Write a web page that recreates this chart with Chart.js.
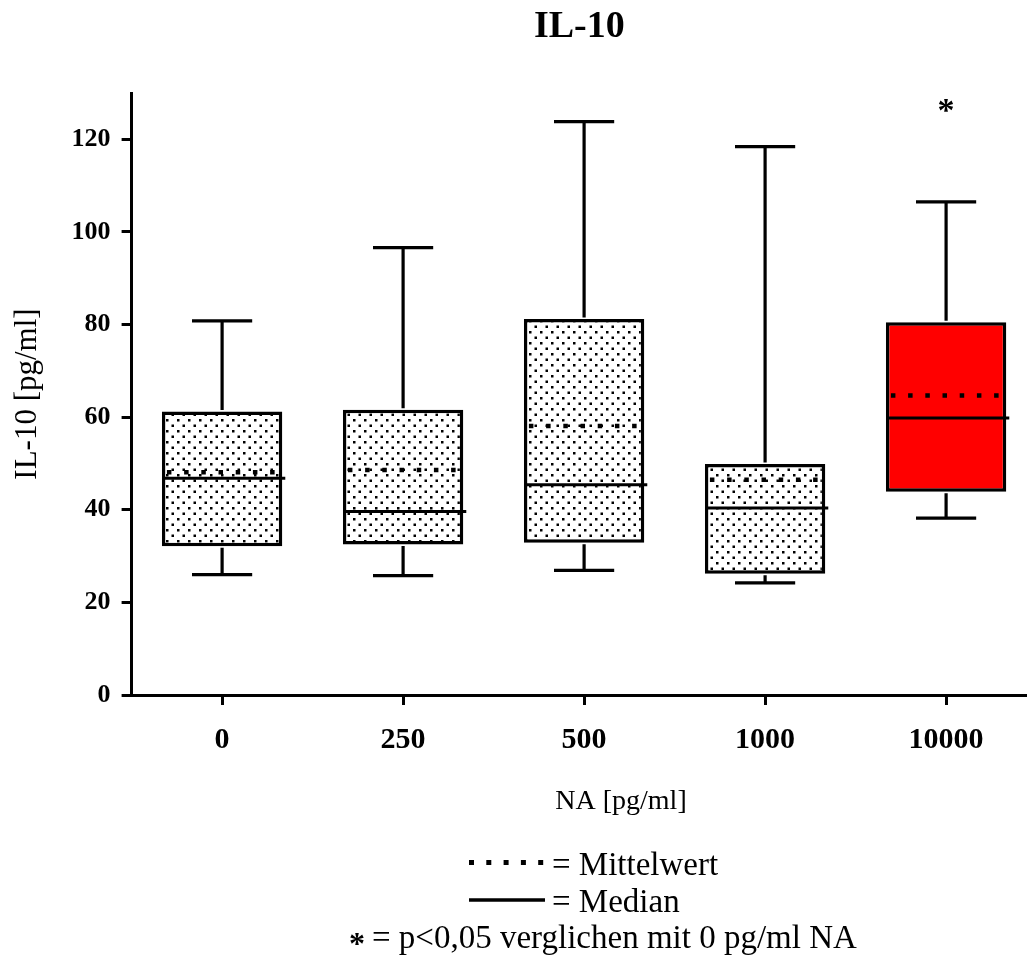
<!DOCTYPE html>
<html>
<head>
<meta charset="utf-8">
<title>IL-10</title>
<script src="https://cdn.jsdelivr.net/npm/chart.js@4.4.1/dist/chart.umd.min.js"></script>
<style>
    html, body { margin: 0; padding: 0; background: #fff; }
    #wrap { width: 1027px; height: 955px; }
</style>
</head>
<body>
<div id="wrap"><canvas id="il10Chart" width="1027" height="955"></canvas></div>
<script>
// NA concentration groups and box plot statistics for IL-10 [pg/ml]
const categories  = ['0', '250', '500', '1000', '10000'];
const whiskerLow  = [26.0, 25.8, 26.9, 24.2, 38.2];
const boxLow      = [32.1, 32.5, 32.9, 26.2, 43.9];
const medians     = [46.8, 39.6, 45.4, 40.4, 59.8];
const means       = [48.1, 48.6, 58.1, 46.5, 64.7];
const boxHigh     = [61.2, 61.6, 81.2, 49.9, 80.5];
const whiskerHigh = [80.8, 96.6, 123.8, 118.4, 106.5];
const significant = [false, false, false, false, true];
const yTicks      = [0, 20, 40, 60, 80, 100, 120];

const SERIF = '"Liberation Serif", "Times New Roman", serif';
Chart.defaults.color = '#000';
Chart.defaults.font.family = SERIF;

// dotted fill used for the boxes
function dotPattern() {
    const c = document.createElement('canvas');
    c.width = 11;
    c.height = 11;
    const g = c.getContext('2d');
    g.fillStyle = '#fff';
    g.fillRect(0, 0, 11, 11);
    g.fillStyle = '#000';
    g.fillRect(1, 1, 2.5, 2.5);
    g.fillRect(6.5, 6.5, 2.5, 2.5);
    return g.createPattern(c, 'repeat');
}
const dots = dotPattern();

// whiskers, median, mean and significance marks on top of the boxes
const boxDecor = {
    id: 'boxDecor',
    afterDatasetsDraw(chart, args, opts) {
        const { ctx, scales: { x, y } } = chart;
        const bars = chart.getDatasetMeta(0).data;
        ctx.save();
        ctx.strokeStyle = '#000';
        ctx.fillStyle = '#000';
        bars.forEach((bar, i) => {
            const cx = x.getPixelForValue(i);
            const half = bar.width / 2;
            const cap = bar.width / 4;
            const yHi = y.getPixelForValue(whiskerHigh[i]);
            const yLo = y.getPixelForValue(whiskerLow[i]);

            ctx.setLineDash([]);
            ctx.lineWidth = 3.2;
            ctx.beginPath();
            ctx.moveTo(cx, y.getPixelForValue(boxHigh[i]) - 1.5);
            ctx.lineTo(cx, yHi);
            ctx.moveTo(cx - cap, yHi);
            ctx.lineTo(cx + cap, yHi);
            ctx.moveTo(cx, y.getPixelForValue(boxLow[i]) + 1.5);
            ctx.lineTo(cx, yLo);
            ctx.moveTo(cx - cap, yLo);
            ctx.lineTo(cx + cap, yLo);
            ctx.stroke();

            // median
            const yMed = y.getPixelForValue(medians[i]);
            ctx.lineWidth = 3;
            ctx.beginPath();
            ctx.moveTo(cx - half + 2, yMed);
            ctx.lineTo(cx + half + 3, yMed);
            ctx.stroke();

            // mean
            const yMean = y.getPixelForValue(means[i]);
            ctx.lineWidth = 4.5;
            ctx.setLineDash([4.5, 12.7]);
            ctx.beginPath();
            ctx.moveTo(cx - half + 5, yMean);
            ctx.lineTo(cx + half - 2, yMean);
            ctx.stroke();

            if (significant[i]) {
                ctx.setLineDash([]);
                ctx.font = 'bold 34px ' + SERIF;
                ctx.textAlign = 'center';
                ctx.textBaseline = 'alphabetic';
                ctx.fillText('*', cx, y.getPixelForValue(opts.starValue));
            }
        });
        ctx.restore();
    }
};

// x axis title and the key underneath
const notes = {
    id: 'notes',
    afterDraw(chart) {
        const ctx = chart.ctx;
        ctx.save();
        ctx.fillStyle = '#000';
        ctx.strokeStyle = '#000';
        ctx.textBaseline = 'alphabetic';

        ctx.font = '28px ' + SERIF;
        ctx.textAlign = 'center';
        ctx.fillText('NA [pg/ml]', 621, 809);

        ctx.textAlign = 'left';
        ctx.font = '33px ' + SERIF;

        ctx.lineWidth = 5;
        ctx.setLineDash([5, 12.3]);
        ctx.beginPath();
        ctx.moveTo(469, 862.5);
        ctx.lineTo(545, 862.5);
        ctx.stroke();
        ctx.fillText('= Mittelwert', 552, 875);

        ctx.lineWidth = 3.3;
        ctx.setLineDash([]);
        ctx.beginPath();
        ctx.moveTo(469, 900);
        ctx.lineTo(545, 900);
        ctx.stroke();
        ctx.fillText('= Median', 552, 912);

        ctx.fillText('= p<0,05 verglichen mit 0 pg/ml NA', 372, 948);
        ctx.font = 'bold 32px ' + SERIF;
        ctx.fillText('*', 349, 954);
        ctx.restore();
    }
};

const ctx = document.getElementById('il10Chart').getContext('2d');
new Chart(ctx, {
    type: 'bar',
    data: {
        datasets: [{
            data: categories.map((c, i) => ({ x: i, y: [boxLow[i], boxHigh[i]] })),
            backgroundColor: categories.map((c, i) => significant[i] ? '#ff0000' : dots),
            borderColor: '#000',
            borderWidth: 3.5,
            borderSkipped: false,
            barPercentage: 0.665,
            categoryPercentage: 1
        }]
    },
    options: {
        responsive: false,
        animation: false,
        devicePixelRatio: 1,
        events: [],
        layout: { padding: 0 },
        scales: {
            x: {
                type: 'linear',
                min: -0.5,
                max: 4.447,
                offset: false,
                afterBuildTicks: scale => {
                    scale.ticks = categories.map((c, i) => ({ value: i }));
                },
                afterFit: scale => { scale.height = 260; },
                ticks: {
                    callback: v => categories[v],
                    font: { size: 30, weight: 'bold' },
                    padding: 17,
                    maxRotation: 0
                },
                grid: {
                    offset: false,
                    drawOnChartArea: false,
                    tickLength: 10,
                    lineWidth: 3,
                    color: '#000'
                },
                border: { color: '#000', width: 3 }
            },
            y: {
                min: 0,
                max: 130,
                afterBuildTicks: scale => {
                    scale.ticks = yTicks.map(v => ({ value: v }));
                },
                afterFit: scale => { scale.width = 131.6; },
                ticks: {
                    font: { size: 26, weight: 'bold' },
                    padding: 11
                },
                grid: {
                    drawOnChartArea: false,
                    tickLength: 10,
                    lineWidth: 3,
                    color: '#000'
                },
                border: { color: '#000', width: 3 },
                title: {
                    display: true,
                    text: 'IL-10 [pg/ml]',
                    font: { size: 31 },
                    padding: { top: 9, bottom: 0 }
                }
            }
        },
        plugins: {
            legend: { display: false },
            tooltip: { enabled: false },
            title: {
                display: true,
                text: 'IL-10',
                fullSize: false,
                font: { size: 38, weight: 'bold' },
                padding: { top: 4, bottom: 43.4 }
            },
            boxDecor: { starValue: 124 }
        }
    },
    plugins: [boxDecor, notes]
});
</script>
</body>
</html>
